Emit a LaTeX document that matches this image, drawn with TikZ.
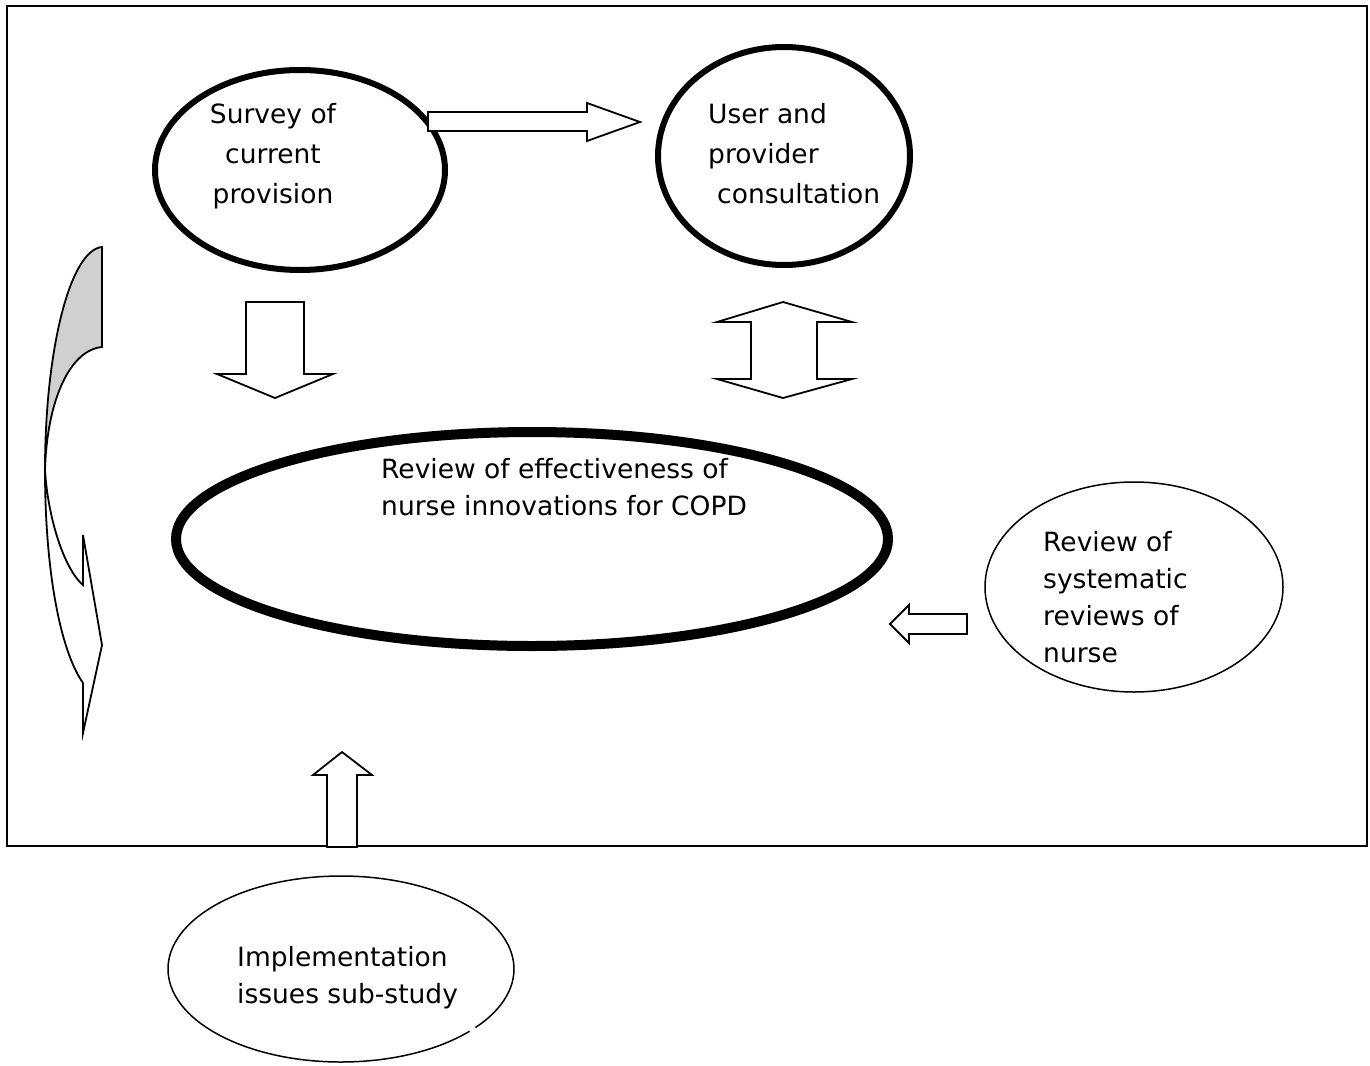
\documentclass[tikz,border=0pt]{standalone}
\usepackage{fontspec}
\setmainfont{DejaVu Sans}
\usetikzlibrary{shapes.geometric}
\definecolor{ShadeGray}{HTML}{D0D0D0}
\tikzset{
  oval/.style={ellipse, draw, inner sep=0pt},
  label text/.style={inner sep=0pt, font=\fontsize{26.5}{40}\selectfont},
  block arrow/.style={draw, fill=white, line width=1.8pt, line join=miter}
}
\begin{document}
\begin{tikzpicture}[x=1pt,y=-1pt]
  \useasboundingbox (0,0) rectangle (1370,1065);
  \draw[line width=1.6pt] (7,6) rectangle (1367,846);

  \node[oval, line width=6pt, minimum width=290pt, minimum height=200pt] (survey) at (300,170) {};
  \node[oval, line width=6pt, minimum width=252pt, minimum height=218pt] (user) at (784,156) {};
  \node[oval, line width=10pt, minimum width=712pt, minimum height=214pt] (review) at (532,539) {};
  \node[oval, line width=1.5pt, minimum width=298pt, minimum height=210pt] (sysrev) at (1134,587) {};
  \coordinate (impl) at (341,969);
  \draw[line width=1.5pt] (impl) ++(42:173 and 93) arc[start angle=42, end angle=399, x radius=173, y radius=93];

  \node[label text, align=center, anchor=north] (surveytxt) at (273,103) {Survey of\\current\\provision};
  \node[label text, align=left, anchor=north west] (usertxt) at (708,103) {User and\\provider\\\hspace{9pt}consultation};
  \node[label text, align=left, anchor=north west, font=\fontsize{26.5}{37}\selectfont] (reviewtxt) at (381,458) {Review of effectiveness of\\nurse innovations for COPD};
  \node[label text, align=left, anchor=north west, font=\fontsize{26.5}{37}\selectfont] (sysrevtxt) at (1043,531) {Review of\\systematic\\reviews of\\nurse};
  \node[label text, align=left, anchor=north west, font=\fontsize{26.5}{37}\selectfont] (impltxt) at (237,946) {Implementation\\issues sub-study};

  \draw[block arrow] (428,112) -- (587,112) -- (587,103) -- (640,122) -- (587,141) -- (587,131) -- (428,131) -- cycle;
  \draw[block arrow] (246,302) -- (304,302) -- (304,374) -- (333,374) -- (275,398) -- (217,374) -- (246,374) -- cycle;
  \draw[block arrow] (783,302) -- (852,322) -- (817,322) -- (817,379) -- (852,379) -- (783,398) -- (717,379) -- (751,379) -- (751,322) -- (717,322) -- cycle;
  \draw[block arrow] (890,624) -- (909,605) -- (909,614) -- (967,614) -- (967,634) -- (909,634) -- (909,643) -- cycle;
  \draw[block arrow] (342,752) -- (372,775) -- (357,775) -- (357,847) -- (327,847) -- (327,775) -- (313,775) -- cycle;

  \draw[fill=ShadeGray, line width=1.8pt, line join=miter] (102,247) .. controls (70,250) and (45,350) .. (45,470)
    .. controls (47,400) and (70,350) .. (102,347) -- cycle;
  \draw[fill=white, line width=1.8pt, line join=miter] (45,470) .. controls (45,570) and (60,650) .. (83,683)
    -- (83,733) -- (102,645) -- (83,535) -- (83,585)
    .. controls (65,570) and (48,520) .. (45,470) -- cycle;
\end{tikzpicture}
\end{document}
